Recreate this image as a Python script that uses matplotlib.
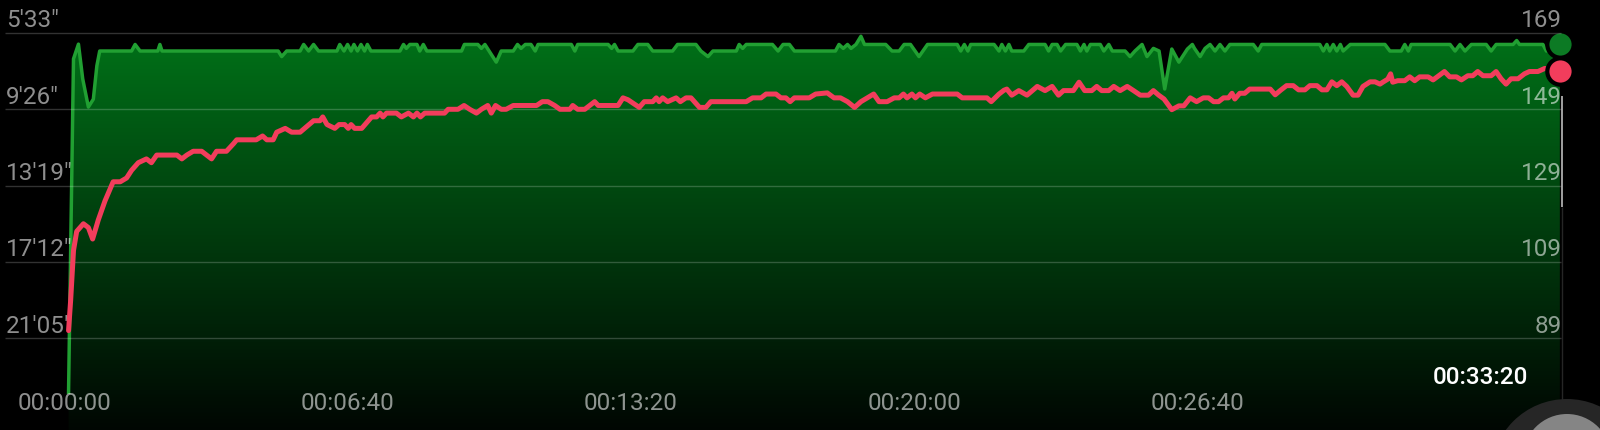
import numpy as np
import matplotlib
matplotlib.use("Agg")
import matplotlib.pyplot as plt
import matplotlib.transforms as mtransforms
from matplotlib.patches import Circle

plt.rcParams['font.family'] = ['Roboto', 'DejaVu Sans']

# ---------------- data ----------------
# pace (seconds per km) over elapsed time (s)
pace_t = [6, 13, 20, 26, 34, 41, 46, 50,
          95, 100, 107, 132, 135, 138,
          302, 307, 314, 333, 338, 345, 352, 359,
          385, 389, 395, 400, 405, 409, 414, 419, 424, 428, 433,
          474, 479, 483, 488, 498, 502, 507, 512,
          561, 565, 584, 589, 594, 610, 617, 634, 640, 645, 651, 659, 665, 669,
          716, 721, 725, 768, 773, 777, 782,
          803, 810, 824, 831, 859, 866, 892, 899, 909, 916, 949, 953, 958, 963, 1000, 1008, 1015, 1024, 1031,
          1089, 1094, 1100, 1106, 1111, 1118, 1125, 1130, 1160, 1169, 1179, 1186, 1195, 1207, 1219,
          1261, 1266, 1271, 1276, 1280, 1313, 1320, 1324,
          1329, 1334, 1338, 1355, 1362, 1385, 1390, 1395, 1402, 1407, 1414, 1430, 1435, 1440, 1444, 1449,
          1463, 1468, 1475, 1480, 1498, 1505, 1512, 1522, 1529, 1538, 1546, 1554, 1564, 1574, 1586, 1593,
          1596, 1604, 1611, 1618, 1625, 1632, 1639, 1646, 1679, 1686, 1691, 1773, 1778, 1783, 1787, 1792,
          1797, 1802, 1806, 1816,
          1865, 1872, 1888, 1893, 1898, 1902, 1957, 1964, 1971, 1978, 1987, 2008, 2015, 2022, 2046, 2051,
          2055, 2088, 2093, 2112]
pace_s = [1430, 412, 367, 473, 559, 535, 433, 388,
          388, 368, 388, 388, 368, 388,
          388, 405, 388, 388, 368, 388, 368, 388,
          388, 368, 388, 368, 388, 368, 388, 368, 388, 368, 388,
          388, 368, 380, 368, 368, 388, 368, 388,
          388, 368, 368, 380, 368, 422, 388, 388, 368, 380, 368, 368, 388, 368,
          368, 388, 368, 368, 380, 368, 388,
          388, 368, 368, 388, 388, 368, 368, 388, 405, 388, 388, 368, 380, 368, 368, 388, 368, 368, 388,
          388, 368, 380, 368, 380, 368, 343, 368, 368, 388, 388, 368, 368, 405, 368,
          368, 388, 368, 388, 368, 368, 388, 368,
          388, 368, 388, 388, 368, 368, 388, 368, 368, 388, 368, 368, 388, 368, 388, 368,
          368, 388, 368, 388, 388, 405, 388, 368, 405, 380, 388, 504, 382, 422, 382, 368,
          380, 405, 380, 368, 388, 368, 388, 368, 368, 388, 368, 368, 388, 368, 388, 368,
          388, 368, 388, 368,
          368, 388, 388, 368, 388, 368, 368, 388, 368, 388, 368, 368, 388, 368, 368, 356,
          368, 368, 388, 368]

# heart rate (bpm) over elapsed time (s)
hr_t = [6, 9, 13, 17.5, 27, 34, 40, 48, 57.5, 69, 79, 88, 95, 104.5, 116, 123, 130.5,
        159, 166, 173, 182, 194, 208, 215, 229, 239, 243.5,
        262, 271, 280, 286, 295, 300, 312, 321, 333, 352, 361, 365, 371, 382, 388, 396, 401, 405, 410, 420,
        434, 441, 446, 450, 455, 469, 476, 486, 493, 498, 503, 509, 531,
        537, 542, 556, 564.5, 572.5, 582, 589, 598, 603, 609, 617, 624, 634, 667, 675, 683, 692.5,
        700, 714, 718, 725, 735, 742, 749, 754, 782, 789, 796,
        800, 812, 819, 831, 836, 840, 845, 852, 864, 870, 878, 885, 897, 906, 913, 963, 972, 984, 991,
        1005, 1012, 1019, 1025, 1031, 1052, 1061,
        1077.5, 1087, 1096, 1106, 1116, 1125, 1134, 1143, 1150.5, 1162, 1172, 1179, 1185, 1190, 1197,
        1202, 1208, 1216, 1226, 1261, 1268, 1303, 1309, 1320, 1327,
        1331, 1338, 1348, 1359.5, 1374, 1385, 1395, 1404, 1411, 1425, 1433, 1441, 1451, 1458, 1465,
        1475, 1482, 1491, 1501, 1510, 1519.5, 1531, 1538, 1545.5, 1553, 1564, 1574, 1581,
        1590, 1599, 1608.5, 1616, 1623, 1630, 1637, 1644, 1649, 1653, 1660, 1667, 1674, 1703, 1710,
        1717, 1726, 1735.5, 1743, 1752, 1759, 1769, 1776, 1783, 1790, 1797, 1804, 1811, 1820, 1827,
        1834, 1844, 1851, 1858,
        1862, 1869, 1873, 1876, 1883, 1893, 1900, 1907, 1914, 1926, 1933, 1949, 1956.5, 1966, 1973,
        1982, 1989, 1996, 2003.5, 2015, 2022, 2029, 2036, 2043, 2053, 2062, 2069, 2081, 2090.5, 2112]
hr_bpm = [91, 99, 112, 117, 119, 118, 115, 120, 125, 130, 130, 131, 133, 135, 136, 135, 137,
          137, 136, 137, 138, 138, 136, 138, 138, 140, 141,
          141, 141, 142, 141, 141, 143, 144, 143, 143, 146, 146, 147, 145, 144, 145, 145, 144, 145, 144, 144,
          147, 147, 148, 147, 148, 148, 147, 148, 147, 148, 147, 148, 148,
          148, 149, 149, 150, 149, 148, 149, 150, 148, 150, 149, 149, 150, 150, 151, 151, 150,
          149, 149, 150, 149, 149, 150, 151, 150, 150, 152, 151.5,
          151, 149.5, 151, 151, 152, 151, 152, 151, 152, 151, 152, 152, 149.5, 149.5, 151, 151, 152, 152, 153,
          153, 152, 152, 151, 152, 152, 153,
          153.3, 152, 152, 151, 149.5, 151, 152, 153, 151, 151, 152, 152, 153, 152, 153,
          152, 153, 152, 153, 153, 152, 152, 151, 153, 154,
          154.3, 152.7, 153.9, 152.7, 155, 153.9, 155, 152.7, 153.9, 153.9, 156.1, 153.9, 153.9, 155, 153.9,
          153.9, 155, 153.9, 155, 153.9, 152.7, 152.7, 153.9, 152.7, 151.7, 148.9, 149.9, 149.9,
          152, 151, 152, 152, 151, 151, 152, 152, 153.2, 151.7, 153.2, 153.2, 154.3, 154.3, 152.8,
          153.9, 155.2, 155.2, 154.1, 154.1, 155.2, 155.2, 154.1, 154.1, 156.2, 155.2, 156.2, 155, 152.7, 152.7,
          155, 156.2, 156.2, 155.6,
          156.1, 156.9, 158.3, 156.1, 156.5, 156.5, 157.5, 156.5, 157.5, 157.5, 156.7, 158.9, 157.5, 157.5, 156.7,
          157.8, 157.8, 158.9, 157.8, 157.8, 158.9, 157, 155.6, 157, 157, 158.3, 158.9, 158.9, 159.7, 159.1]

pace_ticks = [333, 566, 799, 1032, 1265]
hr_ticks = [169, 149, 129, 109, 89]
time_ticks = [0, 400, 800, 1200, 1600]
time_end_label = 2000

# ---------------- figure ----------------
W, H = 1600, 431
fig = plt.figure(figsize=(W / 100, H / 100), dpi=100, facecolor='black')

XLIM = (-90.8, 2168.7)
HR_LIM = (64.94, 177.91)
PACE_LIM = (1545.2, 229.2)

ax2 = fig.add_axes([0, 0, 1, 1])   # pace axis (back)
ax = fig.add_axes([0, 0, 1, 1])    # heart-rate axis (front)
for a in (ax, ax2):
    a.set_xlim(*XLIM)
    a.axis('off')
ax.set_ylim(*HR_LIM)
ax2.set_ylim(*PACE_LIM)
ax2.set_facecolor('black')
ax.patch.set_visible(False)
ax2.set_zorder(1)
ax.set_zorder(2)

# gradient fill under pace line
rows = np.arange(H)
f = np.clip((rows - 40) / (H - 40), 0, 1)
top = np.array([0, 112, 24]) / 255
bot = np.array([1, 6, 2]) / 255
grad = (top[None, :] * (1 - f[:, None]) + bot[None, :] * f[:, None])[:, None, :]
poly = ax2.fill_between(pace_t, pace_s, PACE_LIM[0], color='none', lw=0)
im = ax2.imshow(grad, extent=(XLIM[0], XLIM[1], PACE_LIM[0], PACE_LIM[1]),
                origin='upper', aspect='auto', zorder=1)
path = poly.get_paths()[0]
im.set_clip_path(path, transform=ax2.transData)
ax2.set_xlim(*XLIM)
ax2.set_ylim(*PACE_LIM)

ax2.plot(pace_t, pace_s, color='#21a032', lw=2.5, zorder=3, solid_joinstyle='round')

# grid lines
ax.hlines(hr_ticks, -84, 2114, colors='white', alpha=0.2, lw=1, zorder=1)

# right edge highlight
ax.vlines(2115, 123.5, 152.5, colors='#d8d8d8', lw=1.3, alpha=0.8, zorder=2)
ax.vlines(2115, 66, 123.5, colors='#d8d8d8', lw=1.0, alpha=0.18, zorder=2)

# heart-rate line
ax.plot(hr_t, hr_bpm, color='#f23d5c', lw=3.6, zorder=4, solid_joinstyle='round',
        solid_capstyle='round')

# end markers
ax2.plot([pace_t[-1]], [pace_s[-1]], 'o', ms=19, mfc='#0c7a24', mec='black', mew=3,
         clip_on=False, zorder=6)
ax.plot([hr_t[-1]], [hr_bpm[-1]], 'o', ms=19, mfc='#f23d5c', mec='black', mew=3,
        clip_on=False, zorder=6)

# labels
FS = 17.5
lab_col = (1, 1, 1, 0.56)
off2 = mtransforms.offset_copy(ax2.transData, fig=fig, x=0, y=6.5, units='dots')
for p in pace_ticks:
    ax2.text(-82.3, p, f"{p // 60}'{p % 60:02d}\"", transform=off2, ha='left', va='baseline',
             fontsize=FS, color=lab_col, zorder=7)
off1 = mtransforms.offset_copy(ax.transData, fig=fig, x=0, y=6.5, units='dots')
for h in hr_ticks:
    ax.text(2115, h, f"{h}", transform=off1, ha='right', va='baseline',
            fontsize=FS, color=lab_col, zorder=7)


def hms(s):
    return f"{s // 3600:02d}:{(s % 3600) // 60:02d}:{s % 60:02d}"


xt = ax.get_xaxis_transform()
for t in time_ticks:
    ax.text(t, 1 - 404 / H, hms(t), transform=xt, ha='center', va='center',
            fontsize=FS, color=lab_col, zorder=7)
ax.text(time_end_label, 1 - 378 / H, hms(time_end_label), transform=xt, ha='center',
        va='center', fontsize=FS, color='white', fontweight='medium', zorder=7)

# bottom-right scroll handle decoration
deco = fig.add_axes([0, 0, 1, 1])
deco.set_xlim(0, W)
deco.set_ylim(H, 0)
deco.axis('off')
deco.set_zorder(5)
deco.patch.set_visible(False)
deco.add_patch(Circle((1567, 476), 76, color='#262626', lw=0))
deco.add_patch(Circle((1567, 459), 44, color='#858585', lw=0))

fig.savefig('out.png', dpi=100, facecolor='black')
